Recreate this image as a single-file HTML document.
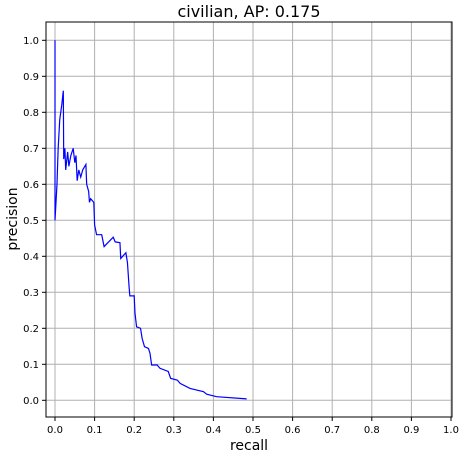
<!DOCTYPE html>
<html><head><meta charset="utf-8"><style>
body{margin:0;background:#fff}
svg{display:block;font-family:"DejaVu Sans","Liberation Sans",sans-serif}
</style></head><body>
<svg id="chart" width="462" height="459" xmlns="http://www.w3.org/2000/svg">
<text x="249" y="17" font-size="16" text-anchor="middle">civilian, AP: 0.175</text>
<text x="249" y="450" font-size="14" text-anchor="middle">recall</text>
<text transform="translate(17,219) rotate(-90)" font-size="14" text-anchor="middle">precision</text>
<g id="grid"></g><g id="ticks"></g><g id="series"></g>
<rect x="46" y="22" width="406" height="395" fill="none" stroke="#000" stroke-width="1"/>
</svg>
<script>
const xTicks=[0,0.1,0.2,0.3,0.4,0.5,0.6,0.7,0.8,0.9,1.0];
const yTicks=[0,0.1,0.2,0.3,0.4,0.5,0.6,0.7,0.8,0.9,1.0];
const recall=[0,0,0.005,0.008,0.012,0.017,0.021,0.022,0.025,0.027,0.032,0.035,0.04,0.046,0.05,0.053,0.056,0.06,0.065,0.07,0.078,0.08,0.085,0.087,0.09,0.098,0.1,0.105,0.118,0.124,0.147,0.152,0.164,0.166,0.179,0.183,0.187,0.189,0.2,0.202,0.206,0.216,0.22,0.226,0.236,0.24,0.244,0.258,0.265,0.286,0.292,0.309,0.316,0.341,0.375,0.383,0.408,0.484];
const precision=[1.0,0.5,0.6,0.7,0.78,0.82,0.86,0.67,0.70,0.64,0.69,0.65,0.68,0.70,0.66,0.68,0.61,0.64,0.62,0.64,0.655,0.60,0.58,0.55,0.56,0.55,0.487,0.46,0.46,0.427,0.453,0.44,0.438,0.394,0.41,0.382,0.316,0.29,0.29,0.242,0.204,0.2,0.172,0.149,0.144,0.13,0.098,0.098,0.089,0.08,0.061,0.056,0.047,0.033,0.024,0.017,0.01,0.004];
const xs=v=>55+v*396, ys=v=>400.3-v*360;
const NS="http://www.w3.org/2000/svg";
const grid=document.getElementById('grid'),ticks=document.getElementById('ticks'),ser=document.getElementById('series');
function mk(tag,attrs,parent){const e=document.createElementNS(NS,tag);for(const k in attrs)e.setAttribute(k,attrs[k]);parent.appendChild(e);return e;}
xTicks.forEach(t=>{const x=xs(t);
 const g=mk('line',{x1:x,x2:x,y1:22,y2:417,stroke:'#b0b0b0','stroke-width':1},grid);
 
 
 mk('line',{x1:x,x2:x,y1:417,y2:421,stroke:'#000'},ticks);
 const l=mk('text',{x:x,y:433,'font-size':10,'text-anchor':'middle'},ticks);l.textContent=t.toFixed(1);
 
 
});
yTicks.forEach(t=>{const y=ys(t);
 const g=mk('line',{x1:46,x2:452,y1:y,y2:y,stroke:'#b0b0b0','stroke-width':1},grid);
 
 
 mk('line',{x1:42,x2:46,y1:y,y2:y,stroke:'#000'},ticks);
 const l=mk('text',{x:39,y:y+3.5,'font-size':10,'text-anchor':'end'},ticks);l.textContent=t.toFixed(1);
 
 
});
const p=mk('polyline',{points:recall.map((r,i)=>xs(r)+','+ys(precision[i])).join(' '),fill:'none',stroke:'#0000ff','stroke-width':1.2},ser);


</script>
</body></html>
